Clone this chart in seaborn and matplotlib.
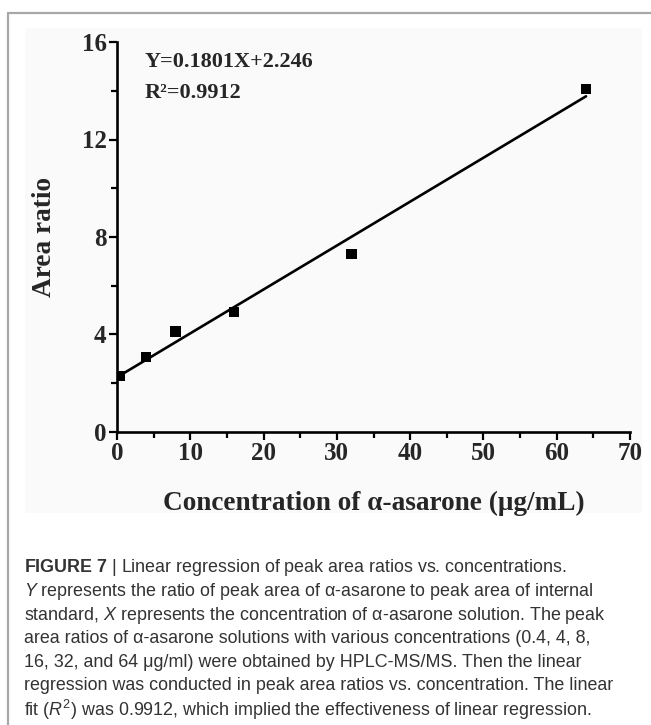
import matplotlib
matplotlib.use("Agg")
import matplotlib.pyplot as plt
from matplotlib.lines import Line2D
from matplotlib.patches import Rectangle
from matplotlib.ticker import MultipleLocator
import pandas as pd
import seaborn as sns

# Calibration data
concentration = [0.4, 4, 8, 16, 32, 64]
area_ratio = [2.30, 3.08, 4.12, 4.92, 7.30, 14.08]

# Reported regression
slope = 0.1801
intercept = 2.246
r_squared = 0.9912

caption_lines = [
    r"$\mathbf{FIGURE\ 7}$ | Linear regression of peak area ratios vs. concentrations.",
    r"$\mathit{Y}$ represents the ratio of peak area of α-asarone to peak area of internal",
    r"standard, $\mathit{X}$ represents the concentration of α-asarone solution. The peak",
    "area ratios of α-asarone solutions with various concentrations (0.4, 4, 8,",
    "16, 32, and 64 μg/ml) were obtained by HPLC-MS/MS. Then the linear",
    "regression was conducted in peak area ratios vs. concentration. The linear",
    r"fit ($\mathit{R}^{2}$) was 0.9912, which implied the effectiveness of linear regression.",
]

sns.set_theme(style="ticks")
plt.rcParams["font.family"] = ["Liberation Serif", "DejaVu Serif"]
plt.rcParams["mathtext.fontset"] = "custom"
plt.rcParams["mathtext.rm"] = "Liberation Sans"
plt.rcParams["mathtext.it"] = "Liberation Sans:italic"
plt.rcParams["mathtext.bf"] = "Liberation Sans:bold"

points = pd.DataFrame({"conc": concentration, "ratio": area_ratio})
fit_x = [min(concentration), max(concentration)]
fit = pd.DataFrame({"conc": fit_x, "ratio": [slope * x + intercept for x in fit_x]})

W, H = 651, 725
fig = plt.figure(figsize=(W / 100, H / 100), dpi=100)
fig.patch.set_facecolor("white")

# faint panel behind the chart and the page frame
fig.add_artist(Rectangle((25 / W, 1 - 513 / H), (642 - 25) / W, (513 - 28) / H,
                         transform=fig.transFigure, facecolor="#fafafa",
                         edgecolor="none", zorder=0))
fig.add_artist(Line2D([8 / W, 1], [1 - 13 / H, 1 - 13 / H], transform=fig.transFigure,
                      color="#a8a8a8", lw=1.6))
fig.add_artist(Line2D([8 / W, 8 / W], [1 - 13 / H, 0], transform=fig.transFigure,
                      color="#a8a8a8", lw=1.6))

ax = fig.add_axes([117 / W, 1 - 432 / H, (630 - 117) / W, (432 - 42) / H])
ax.set_facecolor("none")

sns.lineplot(data=fit, x="conc", y="ratio", color="black", lw=1.9, ax=ax)
sns.scatterplot(data=points, x="conc", y="ratio", marker="s", s=55,
                color="black", edgecolor="none", ax=ax, zorder=3)

ax.set_xlim(0, 70)
ax.set_ylim(0, 16)
ax.xaxis.set_major_locator(MultipleLocator(10))
ax.xaxis.set_minor_locator(MultipleLocator(5))
ax.yaxis.set_major_locator(MultipleLocator(4))
ax.yaxis.set_minor_locator(MultipleLocator(2))
ax.tick_params(which="major", direction="out", length=6, width=1.6, color="black",
               labelsize=18, pad=1.5)
ax.tick_params(which="minor", direction="out", length=4, width=1.6, color="black")
for lab in ax.get_xticklabels() + ax.get_yticklabels():
    lab.set_fontweight("bold")

for side in ["left", "bottom"]:
    ax.spines[side].set_linewidth(1.9)
    ax.spines[side].set_color("black")
sns.despine(ax=ax)

ax.set_xlabel("Concentration of α-asarone (μg/mL)", fontsize=19.6, fontweight="bold",
              labelpad=18)
ax.set_ylabel("Area ratio", fontsize=19.6, fontweight="bold", labelpad=18)

ax.text(3.8, 15.18, f"Y={slope}X+{intercept}", fontsize=16, fontweight="bold",
        va="center", ha="left")
ax.text(3.8, 13.9, f"R²={r_squared}", fontsize=16, fontweight="bold",
        va="center", ha="left")

# figure caption below the chart
y0, step = 568, 23.6
for i, line in enumerate(caption_lines):
    fig.text(24 / W, 1 - (y0 + i * step) / H, line, fontsize=12.9, color="#333333",
             family="Liberation Sans", va="center", ha="left")

fig.savefig("out.png", dpi=100)
